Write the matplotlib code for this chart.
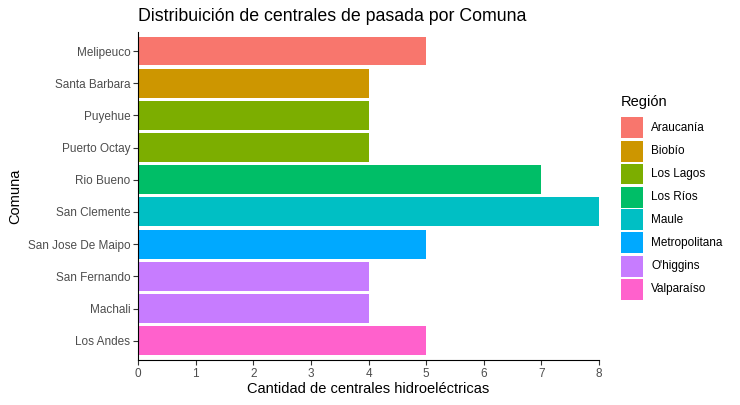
import matplotlib.pyplot as plt
from matplotlib.patches import Rectangle

# ----------------------------------------------------
# Data (top to bottom as shown in the chart)
# ----------------------------------------------------

comunas = ["Melipeuco", "Santa Barbara", "Puyehue", "Puerto Octay", "Rio Bueno",
           "San Clemente", "San Jose De Maipo", "San Fernando", "Machali", "Los Andes"]
cantidad = [5, 4, 4, 4, 7, 8, 5, 4, 4, 5]
region_comuna = ["Araucanía", "Biobío", "Los Lagos", "Los Lagos", "Los Ríos",
                 "Maule", "Metropolitana", "O'higgins", "O'higgins", "Valparaíso"]

regiones = ["Araucanía", "Biobío", "Los Lagos", "Los Ríos", "Maule",
            "Metropolitana", "O'higgins", "Valparaíso"]
colores = ["#F8766D", "#CD9600", "#7CAE00", "#00BE67", "#00BFC4",
           "#00A9FF", "#C77CFF", "#FF61CC"]
color_de = dict(zip(regiones, colores))

plt.rcParams["font.family"] = ["Liberation Sans", "DejaVu Sans"]

W, H = 740, 405
fig = plt.figure(figsize=(W / 100, H / 100), dpi=100)
ax = fig.add_axes([138 / W, 1 - 360 / H, (599 - 138) / W, (360 - 31.7) / H])

ypos = list(range(len(comunas), 0, -1))
ax.barh(ypos, cantidad, height=0.9,
        color=[color_de[r] for r in region_comuna])

ax.set_xlim(0, 8)
ax.set_ylim(0.4, len(comunas) + 0.6)
ax.set_yticks(ypos)
ax.set_yticklabels(comunas)
ax.set_xticks(range(0, 9))

for s in ["top", "right"]:
    ax.spines[s].set_visible(False)
for s in ["left", "bottom"]:
    ax.spines[s].set_color("black")
    ax.spines[s].set_linewidth(0.8)

ax.tick_params(axis="both", labelsize=8.5, labelcolor="#4D4D4D",
               color="#333333", length=3.5, width=0.8, pad=2)

ax.set_xlabel("Cantidad de centrales hidroeléctricas", fontsize=10.5, labelpad=2)
ax.set_ylabel("Comuna", fontsize=10.5, labelpad=4)
ax.set_title("Distribuición de centrales de pasada por Comuna",
             fontsize=12.8, loc="left", pad=8)

# ----------------------------------------------------
# Legend (ggplot style keys)
# ----------------------------------------------------

fig.text(621 / W, 1 - 102 / H, "Región", fontsize=10.5, va="center", ha="left")
key_w, key_h, step = 22, 21, 23
for i, (reg, col) in enumerate(zip(regiones, colores)):
    yc = 128 + i * step
    fig.add_artist(Rectangle((621 / W, 1 - (yc + key_h / 2) / H),
                             key_w / W, key_h / H,
                             transform=fig.transFigure,
                             facecolor=col, edgecolor="none"))
    fig.text(651 / W, 1 - yc / H, reg, fontsize=8.5, va="center", ha="left")

fig.savefig("out.png", dpi=100)
